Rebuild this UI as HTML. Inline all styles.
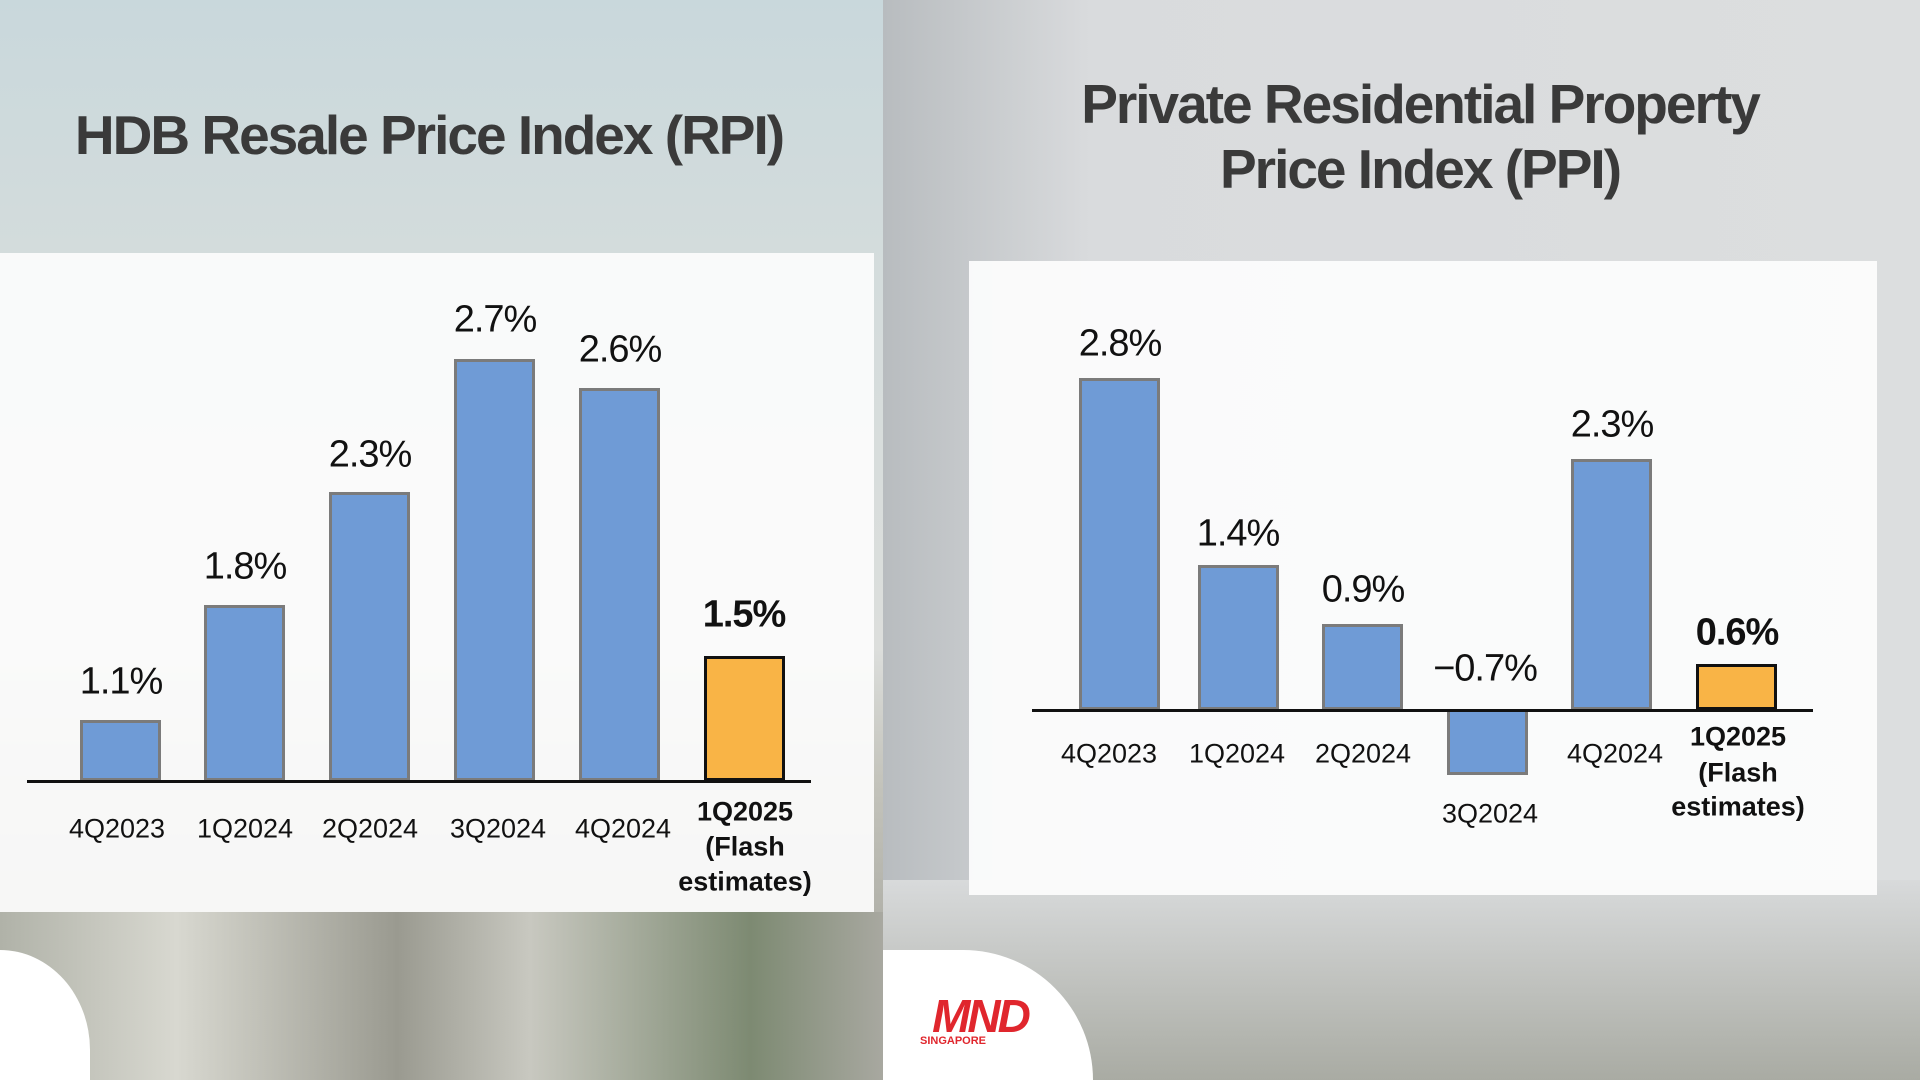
<!DOCTYPE html>
<html style="margin:0;width:1920px;height:1080px;overflow:hidden;background:#a5a69e"><head><meta charset="utf-8"><style>
body{margin:0;width:1920px;height:1080px;position:relative;overflow:hidden;font-family:"Liberation Sans",sans-serif;}
.a{position:absolute;}
.t{position:absolute;transform:translate(-50%,-50%);white-space:nowrap;color:#111;}
.v{font-size:38px;letter-spacing:-1px;}
.c{font-size:27px;}
.b{font-weight:bold;}
.bar{position:absolute;background:#6f9bd6;border:3px solid #7b7b7b;box-sizing:border-box;width:81px;}
.o{background:#f9b446;border:3px solid #111;}
.h{font-weight:bold;font-size:55px;color:#3a3a3a;letter-spacing:-2px;}
</style></head><body>
<div class="a" style="left:0;top:0;width:883px;height:1080px;background:linear-gradient(#c9d8dc 0%,#d4dcdc 25%,#dcdedc 60%,#c4c4bc 72%,#9c9c94 100%)"></div>
<div class="a" style="left:0;top:912px;width:883px;height:168px;background:linear-gradient(90deg,#b0b2a8,#d8d8d0 20%,#9a9a90 45%,#c8c8c0 60%,#7d8a72 85%,#a8a8a0)"></div>
<div class="a" style="left:883px;top:0;width:1037px;height:1080px;background:linear-gradient(90deg,#b8bcbf 0%,#d9dbdd 20%,#dcdedf 100%)"></div>
<div class="a" style="left:883px;top:880px;width:1037px;height:200px;background:linear-gradient(#d8dadb,#a9aba3)"></div>
<div class="a" style="left:0;top:253px;width:874px;height:659px;background:rgba(252,252,252,0.93)"></div>
<div class="a" style="left:969px;top:261px;width:908px;height:634px;background:rgba(252,252,252,0.95)"></div>
<div class="a" style="left:0;top:950px;width:90px;height:130px;border-radius:0 90px 0 0 / 0 100px 0 0;background:#fff"></div>
<div class="a" style="left:883px;top:950px;width:210px;height:130px;border-radius:0 130px 0 0 / 0 130px 0 0;background:#fff"></div>
<div class="t b" style="left:980px;top:1016px;color:#e0262d;font-size:46px;font-style:italic;letter-spacing:-3px">MND</div>
<div class="t b" style="left:953px;top:1041px;color:#e0262d;font-size:11px">SINGAPORE</div>
<div class="t h" style="left:429px;top:135px">HDB Resale Price Index (RPI)</div>
<div class="t h" style="left:1420px;top:104px">Private Residential Property</div>
<div class="t h" style="left:1420px;top:169px">Price Index (PPI)</div>

<div class="bar" style="left:80px;top:720px;height:61px"></div>
<div class="bar" style="left:204px;top:605px;height:176px"></div>
<div class="bar" style="left:329px;top:492px;height:289px"></div>
<div class="bar" style="left:454px;top:359px;height:422px"></div>
<div class="bar" style="left:579px;top:388px;height:393px"></div>
<div class="bar o" style="left:704px;top:656px;height:125px"></div>
<div class="a" style="left:27px;top:780px;width:784px;height:3px;background:#111"></div>
<div class="t v" style="left:121px;top:682px">1.1%</div>
<div class="t v" style="left:245px;top:567px">1.8%</div>
<div class="t v" style="left:370px;top:455px">2.3%</div>
<div class="t v" style="left:495px;top:320px">2.7%</div>
<div class="t v" style="left:620px;top:350px">2.6%</div>
<div class="t v b" style="left:744px;top:615px">1.5%</div>
<div class="t c" style="left:117px;top:829px">4Q2023</div>
<div class="t c" style="left:245px;top:829px">1Q2024</div>
<div class="t c" style="left:370px;top:829px">2Q2024</div>
<div class="t c" style="left:498px;top:829px">3Q2024</div>
<div class="t c" style="left:623px;top:829px">4Q2024</div>
<div class="t c b" style="left:745px;top:812px">1Q2025</div>
<div class="t c b" style="left:745px;top:847px">(Flash</div>
<div class="t c b" style="left:745px;top:882px">estimates)</div>

<div class="bar" style="left:1079px;top:378px;height:332px"></div>
<div class="bar" style="left:1198px;top:565px;height:145px"></div>
<div class="bar" style="left:1322px;top:624px;height:86px"></div>
<div class="bar" style="left:1447px;top:709px;height:66px"></div>
<div class="bar" style="left:1571px;top:459px;height:251px"></div>
<div class="bar o" style="left:1696px;top:664px;height:46px"></div>
<div class="a" style="left:1032px;top:709px;width:781px;height:3px;background:#111"></div>
<div class="t v" style="left:1120px;top:344px">2.8%</div>
<div class="t v" style="left:1238px;top:534px">1.4%</div>
<div class="t v" style="left:1363px;top:590px">0.9%</div>
<div class="t v" style="left:1485px;top:669px">−0.7%</div>
<div class="t v" style="left:1612px;top:425px">2.3%</div>
<div class="t v b" style="left:1737px;top:633px">0.6%</div>
<div class="t c" style="left:1109px;top:754px">4Q2023</div>
<div class="t c" style="left:1237px;top:754px">1Q2024</div>
<div class="t c" style="left:1363px;top:754px">2Q2024</div>
<div class="t c" style="left:1490px;top:814px">3Q2024</div>
<div class="t c" style="left:1615px;top:754px">4Q2024</div>
<div class="t c b" style="left:1738px;top:737px">1Q2025</div>
<div class="t c b" style="left:1738px;top:773px">(Flash</div>
<div class="t c b" style="left:1738px;top:807px">estimates)</div>
</body></html>
